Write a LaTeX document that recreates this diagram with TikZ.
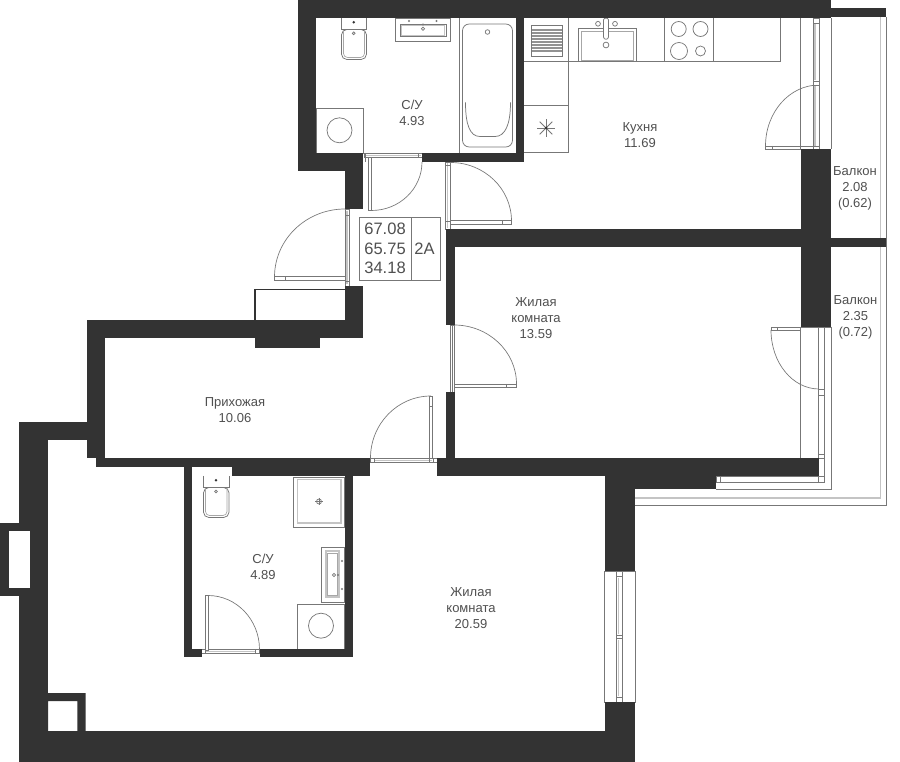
\documentclass[tikz,border=0pt]{standalone}
\usepackage{fontspec}
\setmainfont{Liberation Sans}
\usetikzlibrary{calc}
\definecolor{wallc}{HTML}{333333}
\definecolor{linec}{HTML}{777777}
\definecolor{lightc}{HTML}{C4C4C4}
\definecolor{textc}{HTML}{505050}
\tikzset{
  x=0.75pt,y=-0.75pt,
  wall/.style={fill=wallc,draw=none},
  thin line/.style={draw=linec,line width=0.55pt},
  pale line/.style={draw=linec!65,line width=0.5pt},
  fixture/.style={draw=linec,line width=0.55pt,fill=white},
  glass/.style={draw=lightc,line width=1.4pt},
  rail/.style={draw=linec,line width=0.6pt},
  swing/.style={draw=linec,line width=0.5pt},
  roomlabel/.style={align=center,text=textc,font=\fontsize{9.75}{12}\selectfont,inner sep=0pt},
  info/.style={text=textc,font=\fontsize{12.4}{14.6}\selectfont,inner sep=0pt},
}
\newcommand{\doorarc}[3]{\draw[swing] #1 .. controls ($#1!0.5523!#2$) and ($#3!0.5523!#2$) .. #3;}
\newcommand{\smalldot}[2]{\fill[linec] (#1,#2) circle (1.1);}
\begin{document}
\begin{tikzpicture}
\useasboundingbox (0,0) rectangle (900,762);
\fill[white] (0,0) rectangle (900,762);

% balcony railing
\draw[glass] (880.5,17) -- (880.5,497.8) -- (635,497.8);
\draw[rail] (886,17) -- (886,505) -- (635,505);
\draw[rail] (831,327) -- (831,489.3) -- (716,489.3);

% kitchen counter
\draw[thin line] (524,61.7) -- (780.7,61.7) -- (780.7,18);
\draw[thin line] (568.3,18) -- (568.3,152.5) -- (524,152.5);
\draw[thin line] (524,105.3) -- (568.3,105.3);
\draw[fixture] (531,25) rectangle (562.5,56.7);
\fill[linec!80] (531.6,29) rectangle (561.9,52.5);
\foreach \yy [count=\ii] in {31.5,34.5,37.5,40.5,43.5,46.5,49.5} {\draw[white,line width=0.35pt] (531.6,\yy) -- (561.9,\yy);}
\draw[fixture] (578.5,28.5) rectangle (636.3,61.7);
\draw[pale line] (581,31.5) -- (633.5,31.5) -- (633.5,60) -- (581,60) -- cycle;
\draw[fixture] (603.5,20) -- (603.5,37) .. controls (603.5,40) and (608.5,40) .. (608.5,37) -- (608.5,20) .. controls (608.5,17.5) and (603.5,17.5) .. (603.5,20);
\draw[thin line] (598,23.8) circle (2.4);
\draw[thin line] (615,23.8) circle (2.4);
\draw[thin line] (606,45) circle (2.9);
\draw[thin line] (664.5,18) -- (664.5,61.7);
\draw[thin line] (713.5,18) -- (713.5,61.7);
\draw[thin line] (678.7,29) circle (7.5);
\draw[thin line] (700.5,29) circle (7.5);
\draw[thin line] (679,51) circle (8.5);
\draw[thin line] (700.5,51) circle (5);
\foreach \aa in {0,45,...,315} {\draw[thin line] (546,128) -- +({\aa}:9);}
\fill[wallc] (546,128) circle (1.5);

% upper bathroom
\draw[fixture,rounded corners=4pt] (341.5,29.5) -- (366.5,29.5) -- (366.5,59.5) -- (341.5,59.5) -- cycle;
\draw[pale line,rounded corners=3pt] (343.5,29.5) -- (343.5,57.5) -- (364.5,57.5) -- (364.5,29.5);
\draw[fixture] (341.5,18) -- (341.5,29.5) -- (366.5,29.5) -- (366.5,18);
\fill[wallc] (353.7,22.3) circle (1.4);
\draw[thin line] (353.7,33.3) circle (1.4);
\draw[fixture] (395,18) rectangle (450.5,41.5);
\draw[thin line] (400,24) rectangle (446,36.5);
\draw[glass,line width=0.7pt] (401.5,25.5) rectangle (444.5,35);
\smalldot{409}{21}\smalldot{423}{24.5}\smalldot{436.5}{21}
\draw[thin line] (423,28.7) circle (1.6);
\draw[thin line] (459.5,18) -- (459.5,153.5);
\draw[thin line,rounded corners=5pt] (462.5,24) rectangle (512.5,147);
\draw[thin line,rounded corners=0pt] (465.5,102.5) .. controls (465.5,125) and (470,136.5) .. (480,136.5) -- (495,136.5) .. controls (505,136.5) and (510.5,125) .. (510.5,102.5);
\draw[thin line] (487.5,32) circle (2.3);
\draw[fixture] (316,108.5) rectangle (363,153.5);
\draw[thin line] (339.5,130.3) circle (12.5);

% lower bathroom
\draw[fixture,rounded corners=4pt] (203.5,487.5) -- (229,487.5) -- (229,517.5) -- (203.5,517.5) -- cycle;
\draw[pale line,rounded corners=3pt] (205.5,487.5) -- (205.5,515.5) -- (227,515.5) -- (227,487.5);
\draw[fixture] (203.5,476) -- (203.5,487.5) -- (229,487.5) -- (229,476);
\fill[wallc] (216,480.3) circle (1.4);
\draw[thin line] (216,491.5) circle (1.4);
\draw[fixture] (293.5,477) rectangle (344.5,527);
\draw[glass,line width=0.8pt] (297.5,479.5) rectangle (341,523);
\draw[thin line] (319,501.5) circle (2.5);
\draw[thin line] (315.3,501.5) -- (322.7,501.5) (319,497.8) -- (319,505.2);
\draw[fixture] (321,547) rectangle (344.5,602.5);
\draw[glass,line width=0.9pt] (326,551) rectangle (339,597);
\draw[pale line] (327.5,553) rectangle (337.5,595);
\smalldot{342}{561}\smalldot{338}{575}\smalldot{342}{589}
\draw[thin line] (334,575) circle (1.6);
\draw[fixture] (297.5,604) rectangle (344.5,649.5);
\draw[thin line] (321,625.7) circle (12.5);

% doors
\doorarc{(371.5,210.5)}{(422,210.5)}{(422,162)}
\doorarc{(450.5,162.5)}{(511.5,162.5)}{(511.5,221)}
\doorarc{(345,209)}{(274.5,209)}{(274.5,277)}
\doorarc{(454,325)}{(516.5,325)}{(516.5,384)}
\doorarc{(431,396)}{(370.5,396)}{(370.5,458)}
\doorarc{(208,595.5)}{(259.5,595.5)}{(259.5,649.5)}
\doorarc{(819,85)}{(765.5,85)}{(765.5,146)}
\doorarc{(771,330)}{(771,389)}{(819,389)}

% door leaves and frames
\draw[fixture] (368.5,157) rectangle (371.5,210.5);
\draw[fixture] (364.5,153.7) rectangle (422.5,157);
\draw[glass,line width=0.6pt] (366,155.3) -- (421,155.3);
\draw[thin line] (418,153.7) -- (418,157) (365,153.7) -- (365,162);
\draw[fixture] (445.7,162) rectangle (450.3,229);
\draw[glass,line width=1pt] (447.8,163) -- (447.8,228);
\draw[thin line] (445.7,165) -- (450.3,165) (445.7,221) -- (450.3,221);
\draw[fixture] (450.3,220.5) rectangle (511.7,224.5);
\draw[thin line] (502.5,220.5) -- (502.5,224.5);
\draw[fixture] (345,209) rectangle (349,286);
\draw[glass,line width=0.8pt] (347,211) -- (347,284);
\draw[thin line] (345,215) -- (349,215) (345,281) -- (349,281);
\draw[fixture] (274.5,276.5) rectangle (345,280.8);
\draw[thin line] (285.5,276.5) -- (285.5,280.8);
\draw[fixture] (450.7,325) rectangle (454.5,392);
\draw[thin line] (452.6,325) -- (452.6,392);
\draw[fixture] (454.5,384) rectangle (516.5,387.5);
\draw[thin line] (506.5,384) -- (506.5,387.5);
\draw[fixture] (370,458) rectangle (437,462.5);
\draw[glass,line width=0.7pt] (375,460.2) -- (432,460.2);
\draw[thin line] (374,458) -- (374,462.5) (429.5,458) -- (429.5,462.5) (433,458) -- (433,462.5);
\draw[fixture] (429.5,396) rectangle (432.5,458);
\draw[thin line] (429.5,406.5) -- (432.5,406.5);
\draw[fixture] (201.5,649.5) rectangle (259.5,653.5);
\draw[glass,line width=0.7pt] (206,651.5) -- (255,651.5);
\draw[thin line] (205,649.5) -- (205,653.5) (255.5,649.5) -- (255.5,653.5);
\draw[fixture] (205.5,595.5) rectangle (208.5,650);

% windows
\draw[thin line] (800.7,18) -- (800.7,149) (831,18) -- (831,149);
\draw[fixture] (813,18) rectangle (819,149);
\draw[glass,line width=0.8pt] (815,24) -- (815,80) (815,86) -- (815,146);
\draw[thin line] (813,23.5) -- (819,23.5) (813,81) -- (819,81) (813,85) -- (819,85) (801,146) -- (819,146);
\draw[thin line] (800.7,149) -- (831,149);
\draw[fixture] (765.5,146) rectangle (800.7,149);
\draw[thin line] (772.7,146) -- (772.7,149);

\draw[thin line] (800.7,327) -- (800.7,458) (771,327.3) -- (831,327.3);
\draw[fixture] (818.7,327.3) rectangle (824.5,482);
\draw[thin line] (818.7,389.5) -- (824.5,389.5) (818.7,395) -- (824.5,395) (818.7,454.5) -- (824.5,454.5) (818.7,458) -- (824.5,458) (818.7,476) -- (824.5,476);
\draw[fixture] (771,327.3) rectangle (800.7,330.5);
\draw[thin line] (777.5,327.3) -- (777.5,330.5);
\draw[fixture] (716,476) rectangle (824.5,482);
\draw[thin line] (720.5,476) -- (720.5,482) (818.7,476) -- (818.7,482);

\draw[thin line] (604.7,571) rectangle (635.3,702);
\draw[fixture] (616.3,571) rectangle (622.5,702);
\draw[glass,line width=0.8pt] (618.3,578) -- (618.3,634) (618.3,640) -- (618.3,696);
\draw[thin line] (616.3,576.5) -- (622.5,576.5) (616.3,635) -- (622.5,635) (616.3,638.5) -- (622.5,638.5) (616.3,697) -- (622.5,697);

% niche outlined in black
\draw[wallc,line width=1pt] (255,320) -- (255,289.7) -- (345,289.7);

% walls
\fill[wall] (298,0) rectangle (831,18);
\fill[wall] (298,0) rectangle (316,171);
\fill[wall] (298,153.5) rectangle (363,171);
\fill[wall] (345,171) rectangle (363,209);
\fill[wall] (422,153.5) rectangle (524,162);
\fill[wall] (515.7,18) rectangle (524,162);
\fill[wall] (831,8) rectangle (886,17);
\fill[wall] (800.7,149) rectangle (831,327.3);
\fill[wall] (446,229) rectangle (831,247);
\fill[wall] (831,238) rectangle (886,247);
\fill[wall] (446,229) rectangle (454.5,325);
\fill[wall] (446,392) rectangle (454.5,476);
\fill[wall] (437,458) rectangle (819,476);
\fill[wall] (604.7,476) rectangle (716,489);
\fill[wall] (604.7,489) rectangle (635.3,571);
\fill[wall] (604.7,702) rectangle (635.3,762);
\fill[wall] (19.3,731) rectangle (635.3,762);
\fill[wall] (345,286) rectangle (363,338);
\fill[wall] (87,320) rectangle (363,338.3);
\fill[wall] (254.5,338) rectangle (319.5,348.5);
\fill[wall] (87,320) rectangle (105,458.3);
\fill[wall] (96.3,458.3) rectangle (370,466.8);
\fill[wall] (232.3,458.3) rectangle (370,476);
\fill[wall] (19.3,421.7) rectangle (105,440);
\fill[wall] (96.3,421.7) rectangle (105,466.8);
\fill[wall] (19.3,421.7) rectangle (48,762);
\fill[wall] (0,522.7) rectangle (48,596.5);
\fill[white] (9,530.7) rectangle (30,588.5);
\fill[wall,even odd rule] (48,693) rectangle (85.7,731) (48,701) rectangle (77.3,731);
\fill[wall] (183.5,458.3) rectangle (191.7,657.3);
\fill[wall] (183.5,649.5) rectangle (201.5,657.3);
\fill[wall] (259.5,649.5) rectangle (353,657.3);
\fill[wall] (344.5,467) rectangle (353,657.3);

% info table
\draw[thin line] (359.5,217.3) rectangle (440.5,280);
\draw[thin line] (411.5,217.3) -- (411.5,280);
\node[info,anchor=east] (areaA) at (406,229) {67.08};
\node[info,anchor=east] (areaB) at (406,248.7) {65.75};
\node[info,anchor=east] (areaC) at (406,268.3) {34.18};
\node[info] (flat) at (424.5,249) {2А};

% room labels
\node[roomlabel] (bathA) at (412,113) {С/У\\4.93};
\node[roomlabel] (kitchen) at (640,135) {Кухня\\11.69};
\node[roomlabel] (balconyA) at (855,188) {Балкон\\2.08\\(0.62)};
\node[roomlabel] (balconyB) at (855.5,317.5) {Балкон\\2.35\\(0.72)};
\node[roomlabel] (roomA) at (536,318) {Жилая\\комната\\13.59};
\node[roomlabel] (hall) at (235,410) {Прихожая\\10.06};
\node[roomlabel] (bathB) at (263,567) {С/У\\4.89};
\node[roomlabel] (roomB) at (471,608) {Жилая\\комната\\20.59};
\end{tikzpicture}
\end{document}
